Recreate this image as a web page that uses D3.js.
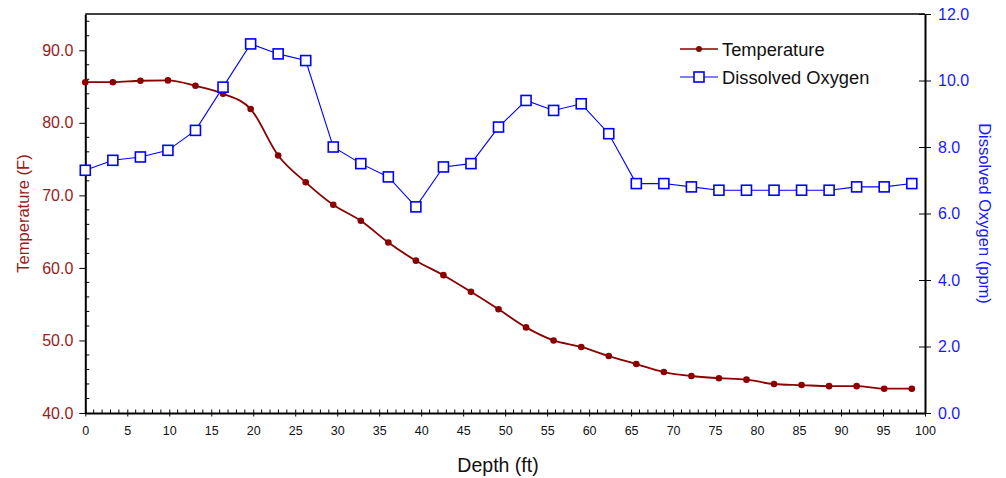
<!DOCTYPE html>
<html>
<head>
<meta charset="utf-8">
<script src="https://cdn.jsdelivr.net/npm/d3@7"></script>
<style>
  html, body { margin: 0; padding: 0; background: #fff; }
  svg { display: block; font-family: "Liberation Sans", Arial, sans-serif; }
</style>
</head>
<body>
<svg id="chart" width="1006" height="478"></svg>
<script>
// ---- data ----
const depth = [0, 3.28, 6.56, 9.84, 13.12, 16.4, 19.69, 22.97, 26.25, 29.53, 32.81, 36.09, 39.37, 42.65, 45.93, 49.21, 52.49, 55.77, 59.06, 62.34, 65.62, 68.9, 72.18, 75.46, 78.74, 82.02, 85.3, 88.58, 91.86, 95.14, 98.43];
const temperature = [85.6, 85.6, 85.8, 85.85, 85.1, 84.0, 81.9, 75.5, 71.8, 68.7, 66.5, 63.5, 61.0, 59.0, 56.7, 54.3, 51.8, 50.0, 49.1, 47.85, 46.75, 45.65, 45.1, 44.8, 44.6, 44.0, 43.85, 43.7, 43.7, 43.35, 43.35];
const oxygen = [7.3, 7.6, 7.7, 7.9, 8.5, 9.8, 11.1, 10.8, 10.6, 8.0, 7.5, 7.1, 6.2, 7.4, 7.5, 8.6, 9.4, 9.1, 9.3, 8.4, 6.9, 6.9, 6.8, 6.7, 6.7, 6.7, 6.7, 6.7, 6.8, 6.8, 6.9];
const xTicks = [0,5,10,15,20,25,30,35,40,45,50,55,60,65,70,75,80,85,90,95,100];
const yLeftTicks = [40, 50, 60, 70, 80, 90];
const yRightTicks = [0, 2, 4, 6, 8, 10, 12];
const seriesNames = ["Temperature", "Dissolved Oxygen"];

const redLine = "#8B0000", redText = "#9A1C1C";
const blueLine = "#0000FF", blueText = "#1A1AFF";

const svg = d3.select("#chart");
const L = 85.3, R = 925, T = 14, B = 413;

const x = d3.scaleLinear().domain([0, 100]).range([L, R]);
const yL = d3.scaleLinear().domain([40, 95]).range([B, T]);
const yR = d3.scaleLinear().domain([0, 12]).range([B, T]);

// frame top line
svg.append("line").attr("x1", L).attr("x2", R).attr("y1", T).attr("y2", T)
  .attr("stroke", "#000").attr("stroke-width", 1.5);

// ---- bottom axis ----
const gx = svg.append("g").attr("transform", `translate(0,${B})`);
gx.selectAll("line.minor").data(d3.range(0, 101, 1).filter(v => v % 5 !== 0)).join("line")
  .attr("x1", d => x(d)).attr("x2", d => x(d)).attr("y1", 0).attr("y2", -3.5)
  .attr("stroke", "#000").attr("stroke-width", 1);
const xAxis = d3.axisBottom(x).tickValues(xTicks).tickFormat(d3.format("d")).tickSizeInner(3.5).tickSizeOuter(0).tickPadding(10);
gx.call(xAxis);
gx.select(".domain").attr("stroke-width", 2);
gx.selectAll(".tick line").attr("y1", -3.5).attr("stroke-width", 1);
gx.selectAll(".tick text").attr("font-size", 12.5).attr("fill", "#111").attr("font-family", "Liberation Sans, Arial, sans-serif");

// ---- left axis ----
const gl = svg.append("g").attr("transform", `translate(${L},0)`);
gl.selectAll("line.minor").data(d3.range(40, 96, 2).filter(v => v % 10 !== 0)).join("line")
  .attr("x1", 0).attr("x2", 4).attr("y1", d => yL(d)).attr("y2", d => yL(d))
  .attr("stroke", "#000").attr("stroke-width", 1);
const yLeftAxis = d3.axisLeft(yL).tickValues(yLeftTicks).tickFormat(d3.format(".1f")).tickSizeInner(6).tickSizeOuter(0).tickPadding(6);
gl.call(yLeftAxis);
gl.select(".domain").attr("stroke-width", 2);
gl.selectAll(".tick text").attr("font-size", 16).attr("fill", redText).attr("font-family", "Liberation Sans, Arial, sans-serif");

// ---- right axis ----
const gr = svg.append("g").attr("transform", `translate(${R},0)`);
const yRightAxis = d3.axisRight(yR).tickValues(yRightTicks).tickFormat(d3.format(".1f")).tickSizeInner(6).tickSizeOuter(0).tickPadding(7);
gr.call(yRightAxis);
gr.select(".domain").attr("stroke-width", 2);
gr.selectAll(".tick line").attr("x1", -6);
gr.selectAll(".tick text").attr("font-size", 16).attr("fill", blueText).attr("font-family", "Liberation Sans, Arial, sans-serif");

// ---- axis titles ----
svg.append("text").attr("x", 498).attr("y", 471.5).attr("text-anchor", "middle")
  .attr("font-size", 19.5).attr("fill", "#111").text("Depth (ft)");
svg.append("text").attr("transform", `translate(29,${(T + B) / 2}) rotate(-90)`).attr("text-anchor", "middle")
  .attr("font-size", 16.5).attr("fill", redText).text("Temperature (F)");
svg.append("text").attr("transform", `translate(979,${(T + B) / 2}) rotate(90)`).attr("text-anchor", "middle")
  .attr("font-size", 16.5).attr("fill", blueText).text("Dissolved Oxygen (ppm)");

// ---- series ----
const tempData = depth.map((d, i) => [d, temperature[i]]);
const oxyData = depth.map((d, i) => [d, oxygen[i]]);

svg.append("path").datum(oxyData)
  .attr("fill", "none").attr("stroke", blueLine).attr("stroke-width", 1.1)
  .attr("d", d3.line().x(d => x(d[0])).y(d => yR(d[1])));

svg.append("path").datum(tempData)
  .attr("fill", "none").attr("stroke", redLine).attr("stroke-width", 1.8)
  .attr("d", d3.line().curve(d3.curveMonotoneX).x(d => x(d[0])).y(d => yL(d[1])));

svg.append("g").selectAll("circle").data(tempData).join("circle")
  .attr("cx", d => x(d[0])).attr("cy", d => yL(d[1])).attr("r", 3.3).attr("fill", redLine);

const sq = 10;
svg.append("g").selectAll("rect").data(oxyData).join("rect")
  .attr("x", d => x(d[0]) - sq / 2).attr("y", d => yR(d[1]) - sq / 2)
  .attr("width", sq).attr("height", sq)
  .attr("fill", "#fff").attr("stroke", blueLine).attr("stroke-width", 1.6);

// ---- legend ----
const lg = svg.append("g");
const legendRows = [
  { name: seriesNames[0], y: 49, color: redLine, marker: "circle" },
  { name: seriesNames[1], y: 77, color: blueLine, marker: "square" }
];
legendRows.forEach(r => {
  lg.append("line").attr("x1", 680).attr("x2", 718).attr("y1", r.y).attr("y2", r.y)
    .attr("stroke", r.color).attr("stroke-width", r.marker === "circle" ? 1.6 : 1.1);
  if (r.marker === "circle") {
    lg.append("circle").attr("cx", 699).attr("cy", r.y).attr("r", 3).attr("fill", r.color);
  } else {
    lg.append("rect").attr("x", 699 - sq / 2).attr("y", r.y - sq / 2).attr("width", sq).attr("height", sq)
      .attr("fill", "#fff").attr("stroke", r.color).attr("stroke-width", 1.6);
  }
  lg.append("text").attr("x", 722).attr("y", r.y + 6.5).attr("font-size", 18.3).attr("fill", "#111").text(r.name);
});
</script>
</body>
</html>
